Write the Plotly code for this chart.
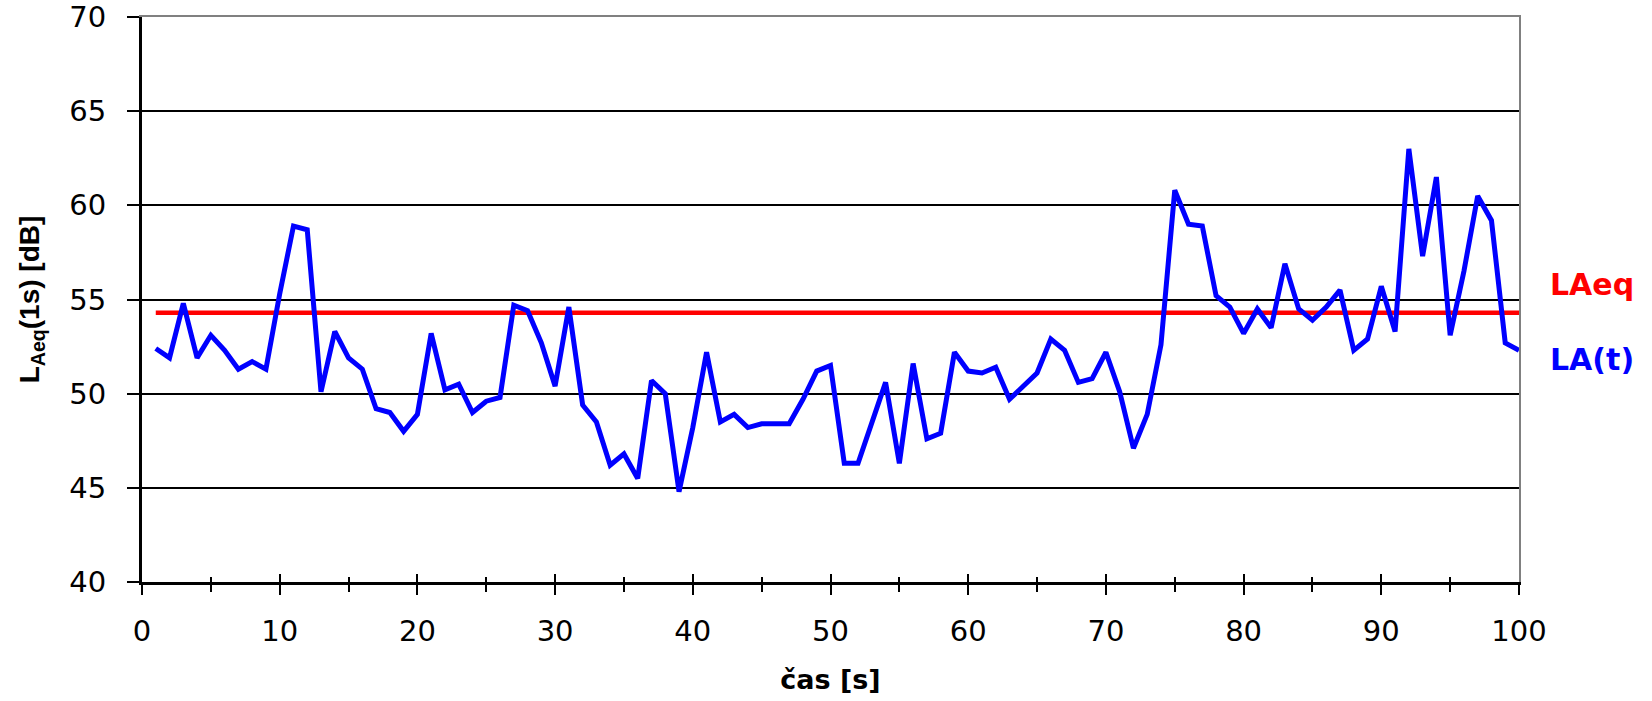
import plotly.graph_objects as go

# --- data ---
time_s = list(range(1, 101))
la_t = [52.4, 51.9, 54.8, 51.9, 53.1, 52.3, 51.3, 51.7, 51.3, 55.3,
        58.9, 58.7, 50.1, 53.3, 51.9, 51.3, 49.2, 49.0, 48.0, 48.9,
        53.2, 50.2, 50.5, 49.0, 49.6, 49.8, 54.7, 54.4, 52.7, 50.4,
        54.6, 49.4, 48.5, 46.2, 46.8, 45.5, 50.7, 50.0, 44.8, 48.2,
        52.2, 48.5, 48.9, 48.2, 48.4, 48.4, 48.4, 49.7, 51.2, 51.5,
        46.3, 46.3, 48.5, 50.6, 46.3, 51.6, 47.6, 47.9, 52.2, 51.2,
        51.1, 51.4, 49.7, 50.4, 51.1, 52.9, 52.3, 50.6, 50.8, 52.2,
        50.1, 47.1, 48.9, 52.6, 60.8, 59.0, 58.9, 55.2, 54.6, 53.2,
        54.5, 53.5, 56.9, 54.5, 53.9, 54.6, 55.5, 52.3, 52.9, 55.7,
        53.3, 63.0, 57.3, 61.5, 53.1, 56.5, 60.5, 59.2, 52.7, 52.3]
laeq = 54.3
x_ticks = [0, 10, 20, 30, 40, 50, 60, 70, 80, 90, 100]
y_ticks = [40, 45, 50, 55, 60, 65, 70]

TICK_FONT = dict(family="DejaVu Sans", size=29, color="black")

fig = go.Figure()

fig.add_trace(go.Scatter(
    x=[time_s[0], time_s[-1]], y=[laeq, laeq], mode="lines",
    line=dict(color="#FF0000", width=4.5), hoverinfo="skip"))

fig.add_trace(go.Scatter(
    x=time_s, y=la_t, mode="lines",
    line=dict(color="#0000FF", width=5)))

# helper traces for overlay axes (frame + inner tick halves)
fig.add_trace(go.Scatter(x=[], y=[], xaxis="x2", yaxis="y2", showlegend=False))
fig.add_trace(go.Scatter(x=[], y=[], xaxis="x3", yaxis="y", showlegend=False))

fig.update_layout(
    width=1652, height=701,
    margin=dict(l=142, r=133, t=17, b=119, autoexpand=False),
    paper_bgcolor="white", plot_bgcolor="white",
    showlegend=False,
    xaxis=dict(
        range=[0, 100], tickvals=x_ticks, ticktext=[str(v) for v in x_ticks],
        ticks="outside", ticklen=10, tickwidth=2, tickcolor="black",
        minor=dict(dtick=5, ticks="outside", ticklen=7, tickwidth=2, tickcolor="black"),
        showline=True, linecolor="black", linewidth=3,
        showgrid=False, zeroline=False, automargin=False,
        tickfont=TICK_FONT,
        ticklabelstandoff=11,
        title=dict(text="<b>čas [s]</b>",
                   font=dict(family="DejaVu Sans", size=27, color="black"),
                   standoff=24),
    ),
    xaxis3=dict(
        range=[0, 100], overlaying="x", side="bottom", anchor="y",
        tickvals=x_ticks, ticks="inside", ticklen=8, tickwidth=2, tickcolor="black",
        minor=dict(dtick=5, ticks="inside", ticklen=5, tickwidth=2, tickcolor="black"),
        showticklabels=False, showline=False, showgrid=False, zeroline=False,
        automargin=False,
    ),
    yaxis=dict(
        range=[40, 70], tickvals=y_ticks, ticktext=[str(v) for v in y_ticks],
        ticks="outside", ticklen=12, tickwidth=2, tickcolor="black",
        showline=True, linecolor="black", linewidth=3,
        showgrid=True, gridcolor="black", gridwidth=2, zeroline=False,
        automargin=False,
        tickfont=TICK_FONT,
        ticklabelstandoff=15,
        title=dict(text="<b>L<sub>Aeq</sub>(1s) [dB]</b>",
                   font=dict(family="Liberation Sans, Arial", size=28, color="black"),
                   standoff=22),
    ),
    xaxis2=dict(
        range=[0, 100], overlaying="x", side="top", anchor="y2",
        showline=True, linecolor="#808080", linewidth=2, automargin=False,
        ticks="", showticklabels=False, showgrid=False, zeroline=False,
    ),
    yaxis2=dict(
        range=[40, 70], overlaying="y", side="right", anchor="x2",
        showline=True, linecolor="#808080", linewidth=2, automargin=False,
        ticks="", showticklabels=False, showgrid=False, zeroline=False,
    ),
    annotations=[
        dict(text="<b>LAeq</b>", xref="paper", yref="y", x=1.021, y=55.8,
             xanchor="left", yanchor="middle", showarrow=False,
             font=dict(family="DejaVu Sans", size=30, color="#FF0000")),
        dict(text="<b>LA(t)</b>", xref="paper", yref="y", x=1.021, y=51.8,
             xanchor="left", yanchor="middle", showarrow=False,
             font=dict(family="DejaVu Sans", size=30, color="#0000FF")),
    ],
)

fig.write_html("out.html")
